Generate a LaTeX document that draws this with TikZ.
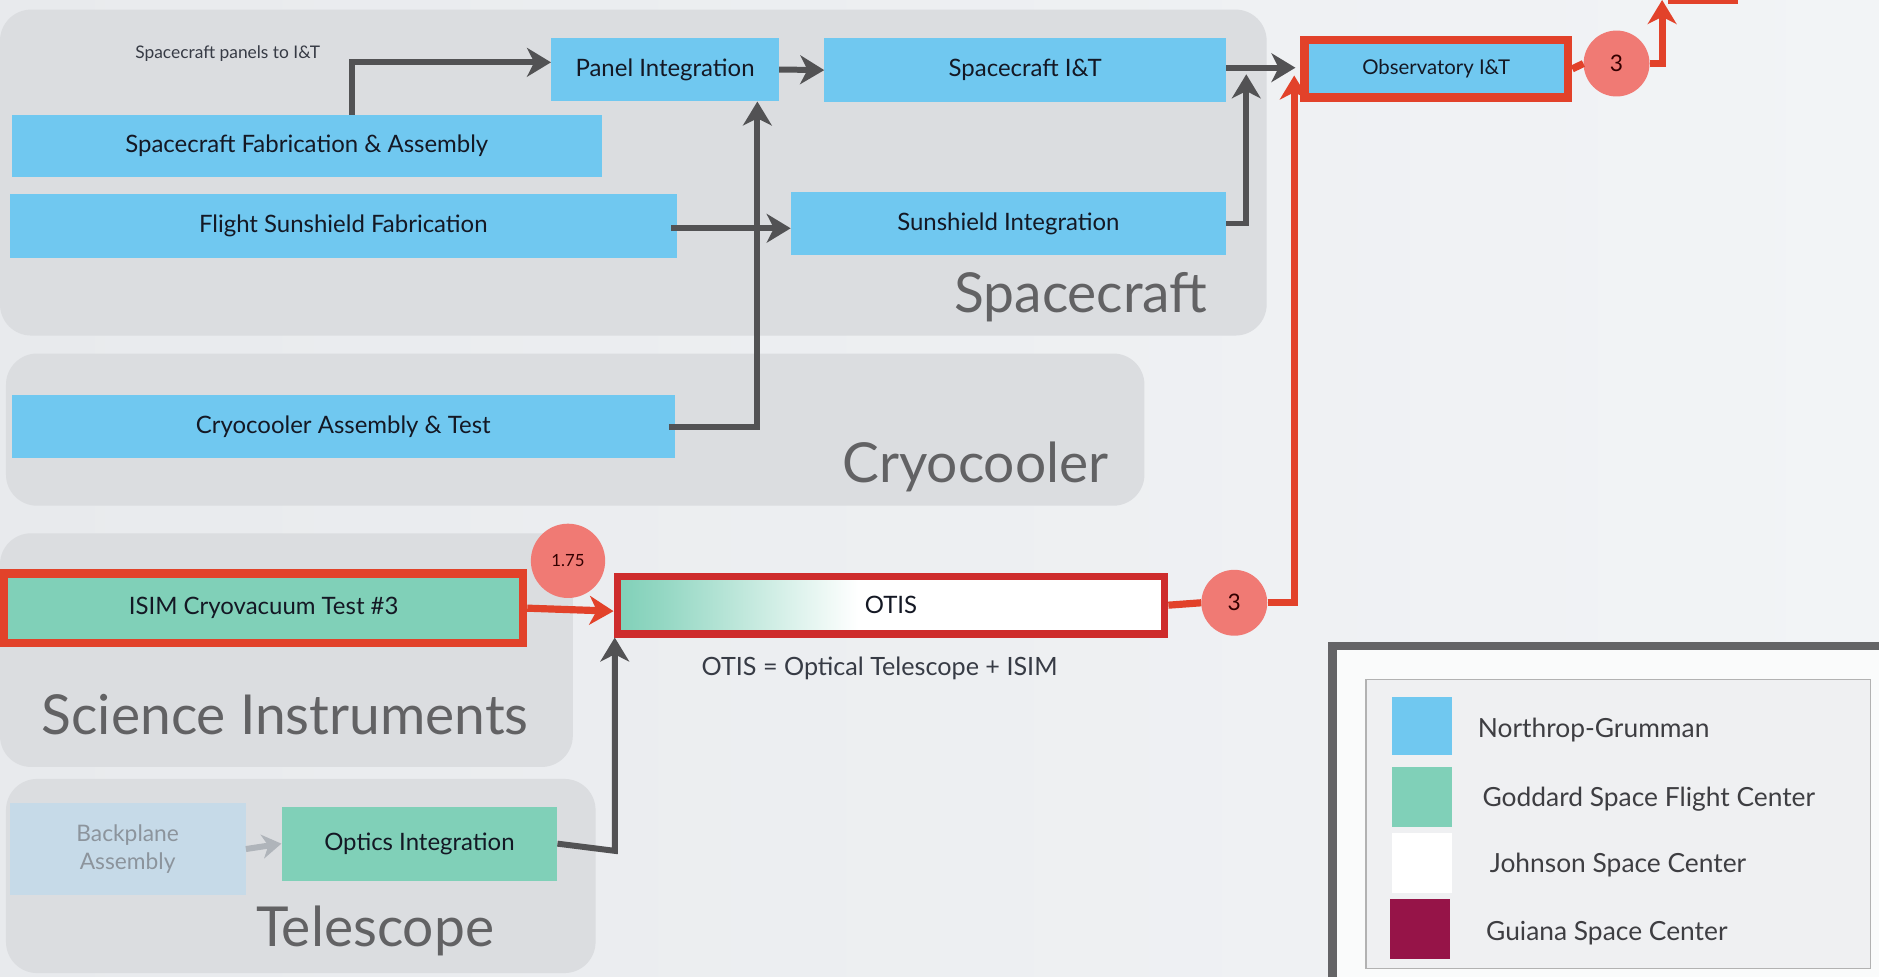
\documentclass[tikz,border=0pt]{standalone}
\usepackage{fontspec}
\setmainfont{Lato}
\usetikzlibrary{arrows.meta,calc}
\definecolor{ngblue}{RGB}{112,200,240}
\definecolor{gsfc}{RGB}{128,208,184}
\definecolor{guiana}{RGB}{150,20,72}
\definecolor{panelgray}{RGB}{219,221,224}
\definecolor{bgL}{RGB}{232,234,237}
\definecolor{bgR}{RGB}{242,244,246}
\definecolor{arrowgray}{RGB}{82,82,84}
\definecolor{redA}{RGB}{226,66,42}
\definecolor{redB}{RGB}{206,44,44}
\definecolor{salmon}{RGB}{240,122,116}
\definecolor{labelgray}{RGB}{98,98,100}
\definecolor{bpblue}{RGB}{198,218,232}
\definecolor{bptext}{RGB}{140,148,156}
\definecolor{txt}{RGB}{20,24,36}
\definecolor{legtxt}{RGB}{62,62,66}
\definecolor{framegray}{RGB}{100,100,102}
\pgfdeclarehorizontalshading{otisshade}{100bp}{color(0bp)=(gsfc); color(25bp)=(gsfc); color(29bp)=(gsfc!85!white); color(47bp)=(white); color(100bp)=(white)}
\tikzset{
  task/.style={fill=ngblue, inner sep=0pt, text=txt, font=\fontsize{20}{24}\selectfont},
  gtask/.style={task, fill=gsfc},
  grouppanel/.style={fill=panelgray, rounded corners=26pt},
  big/.style={text=labelgray, font=\fontsize{46}{50}\selectfont, inner sep=0pt},
  flow/.style={draw=arrowgray, line width=5pt, -{Stealth[length=20pt,width=24pt,inset=6pt]}},
  lightflow/.style={draw=bptext!70!white, line width=5pt, -{Stealth[length=16pt,width=20pt,inset=5pt]}},
  redflow/.style={draw=redA, line width=6pt, -{Stealth[length=20pt,width=24pt,inset=6pt]}},
  redline/.style={draw=redA, line width=6pt},
  badge/.style={circle, fill=salmon, inner sep=0pt, text=black!80!red},
  legtext/.style={anchor=west, text=legtxt, font=\fontsize{22}{26}\selectfont, inner sep=0pt},
  note/.style={text=txt!85!white, inner sep=0pt}
}
\begin{document}
\begin{tikzpicture}[x=1pt,y=-1pt]
\useasboundingbox (0,0) rectangle (1568,815);
\clip (0,0) rectangle (1568,815);
\shade[left color=bgL, right color=bgR] (0,0) rectangle (1568,815);

% group panels
\fill[grouppanel] (0,8) rectangle (1057,280);
\fill[grouppanel] (5,295) rectangle (955,422);
\fill[grouppanel] (0,445) rectangle (478,640);
\fill[grouppanel] (5,650) rectangle (497,812);

% group labels
\node[big] (lsc) at (902,248) {Spacecraft};
\node[big] (lcc) at (814,390) {Cryocooler};
\node[big] (lsi) at (238,596) {Science Instruments};
\node[big] (lts) at (313,777) {Telescope};

% spacecraft tasks
\node[note, font=\fontsize{14.5}{16}\selectfont] (spl) at (190,45) {Spacecraft panels to I\&T};
\node[task, minimum width=190pt, minimum height=53pt] (panint) at (555,58) {Panel Integration};
\node[task, minimum width=335pt, minimum height=53pt] (scit) at (855.5,58.5) {Spacecraft I\&T};
\node[task, minimum width=492pt, minimum height=52pt] (scfab) at (256,122) {Spacecraft Fabrication \& Assembly};
\node[task, minimum width=557pt, minimum height=53pt] (fsfab) at (286.5,188.5) {Flight Sunshield Fabrication};
\node[task, minimum width=363pt, minimum height=53pt] (ssint) at (841.5,186.5) {Sunshield Integration};

% observatory
\node[task, draw=redA, line width=7pt, minimum width=220pt, minimum height=48pt, font=\fontsize{17}{20}\selectfont] (obs) at (1198.5,57.5) {Observatory I\&T};

% cryocooler
\node[task, minimum width=553pt, minimum height=52pt] (cryo) at (286.5,356) {Cryocooler Assembly \& Test};

% science instruments
\node[gtask, draw=redA, line width=7pt, minimum width=433pt, minimum height=58pt] (isim) at (220,507.5) {ISIM Cryovacuum Test \#3};

% OTIS
\node[draw=redB, line width=6pt, shading=otisshade, minimum width=457pt, minimum height=48pt, inner sep=0pt, text=txt, font=\fontsize{20}{24}\selectfont] (otis) at (743.5,505) {OTIS};
\node[note, font=\fontsize{21}{25}\selectfont] (otisnote) at (734,558) {OTIS = Optical Telescope + ISIM};

% telescope
\node[task, fill=bpblue, text=bptext, minimum width=197pt, minimum height=77pt, align=center, font=\fontsize{19}{23}\selectfont] (bp) at (106.5,708.5) {Backplane\\Assembly};
\node[gtask, minimum width=230pt, minimum height=62pt] (opt) at (350,704) {Optics Integration};

% badges
\node[badge, minimum size=62pt, font=\fontsize{14}{16}\selectfont] (c175) at (474,468) {1.75};
\node[badge, minimum size=55pt, font=\fontsize{19}{21}\selectfont] (c3b) at (1030,503) {3};
\node[badge, minimum size=55pt, font=\fontsize{19}{21}\selectfont] (c3a) at (1349,53) {3};

% gray connectors
\draw[flow] (294,0 |- scfab.north) -- (294,52) -- ($(panint.west)+(0,-6)$);
\draw[flow] (panint.east) -- (scit.west);
\draw[flow] ($(fsfab.east)+(-5,2)$) -- ($(ssint.west)+(0,4)$);
\draw[flow] ($(cryo.east)+(-5,0)$) -- (632,356) -- (632,0 |- panint.south);
\draw[flow] ($(scit.east)+(0,-2)$) -- ($(obs.west)+(-4,-1)$);
\draw[flow] (ssint.east) -- (1040,186.5) -- (1040,62);
\draw[flow] (opt.east) -- (513,710) -- (513,0 |- otis.south);
\draw[lightflow] (bp.east) -- (opt.west);

% red connectors
\draw[redflow] (isim.east) -- ($(otis.west)+(0,5)$);
\draw[redline] (otis.east) -- (c3b.west);
\draw[redflow] (c3b.east) -- (1080,503) -- (1080,63);
\draw[redline] (obs.east) -- (c3a.west);
\draw[redflow] (c3a.east) -- (1387,53) -- (1387,0);
\draw[redA, line width=4pt] (1392,1) -- (1450,1);

% legend
\draw[framegray, line width=7pt, fill=white!60!bgR] (1112,539) rectangle (1600,840);
\draw[gray!60, line width=1.2pt, fill=bgL!70!white] (1140,567) rectangle (1561,808);
\fill[ngblue] (1162,582) rectangle (1212,630);
\fill[gsfc] (1162,640) rectangle (1212,690);
\fill[white] (1162,695) rectangle (1212,745);
\fill[guiana] (1160,750) rectangle (1210,800);
\node[legtext] (lng) at (1233,609) {Northrop-Grumman};
\node[legtext] (lgs) at (1237,667) {Goddard Space Flight Center};
\node[legtext] (ljs) at (1243,722) {Johnson Space Center};
\node[legtext] (lgu) at (1240,779) {Guiana Space Center};
\end{tikzpicture}
\end{document}
